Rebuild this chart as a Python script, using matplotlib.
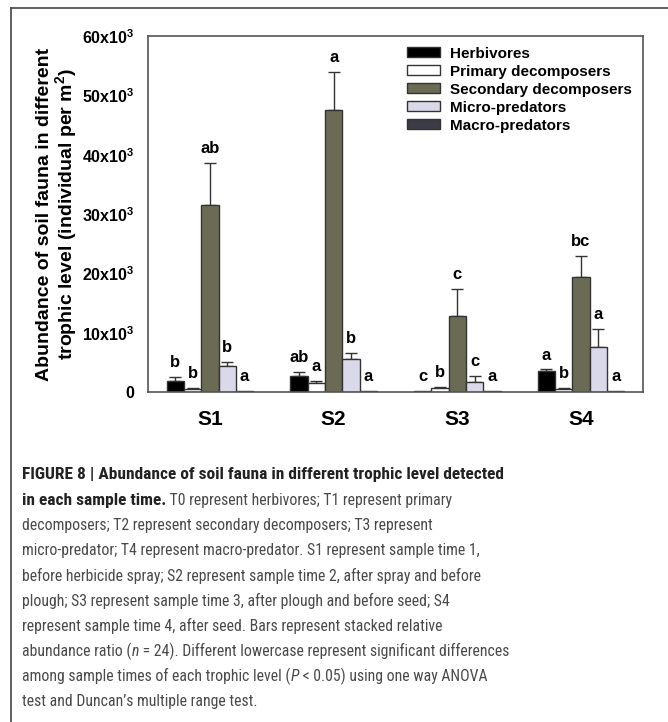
import matplotlib
matplotlib.use("Agg")
import matplotlib.pyplot as plt
import numpy as np
from matplotlib import font_manager as fm
from matplotlib.patches import Patch
from matplotlib.lines import Line2D

# data (individual per m2)
samples = ["S1", "S2", "S3", "S4"]
groups = ["Herbivores", "Primary decomposers", "Secondary decomposers",
          "Micro-predators", "Macro-predators"]
herbivores = [1900, 2700, 200, 3500]
primary = [500, 1500, 700, 500]
secondary = [31600, 47500, 12800, 19400]
micro = [4300, 5500, 1700, 7600]
macro = [100, 100, 100, 100]

herbivores_err = [600, 700, 0, 300]
primary_err = [150, 300, 200, 150]
secondary_err = [7000, 6500, 4500, 3600]
micro_err = [800, 1100, 1000, 3100]
macro_err = [0, 0, 0, 0]

letters = [
    ["b", "ab", "c", "a"],
    ["b", "a", "b", "b"],
    ["ab", "a", "c", "bc"],
    ["b", "b", "c", "a"],
    ["a", "a", "a", "a"],
]

y_ticks = [0, 10000, 20000, 30000, 40000, 50000, 60000]

colors = ["#000000", "#ffffff", "#6b6b55", "#d9d9ea", "#3c3c48"]
edge = "#333333"

W, H = 668, 722
fig = plt.figure(figsize=(W / 100, H / 100), dpi=100)
plt.rcParams["font.family"] = ["Liberation Sans", "DejaVu Sans"]
plt.rcParams["mathtext.fontset"] = "custom"
plt.rcParams["mathtext.bf"] = "Liberation Sans:bold"
plt.rcParams["mathtext.rm"] = "Liberation Sans:bold"

# outer frame (top and left only visible)
fig.add_artist(Line2D([11 / W, 11 / W], [0, 1 - 8 / H], transform=fig.transFigure,
                      color="#444444", lw=1.2))
fig.add_artist(Line2D([11 / W, 1], [1 - 8 / H, 1 - 8 / H], transform=fig.transFigure,
                      color="#444444", lw=1.2))

ax = fig.add_axes([148 / W, 1 - 392 / H, 495 / W, 356 / H])

x = np.arange(1, len(samples) + 1)
bw = 0.14
series = [herbivores, primary, secondary, micro, macro]
errs = [herbivores_err, primary_err, secondary_err, micro_err, macro_err]

for i, (vals, err) in enumerate(zip(series, errs)):
    xs = x + (i - 2) * bw
    ax.bar(xs, vals, width=bw, color=colors[i], edgecolor=edge, linewidth=1,
           label=groups[i], zorder=2)
    has_err = [e > 0 for e in err]
    if any(has_err):
        xe = [xx for xx, h in zip(xs, has_err) if h]
        ve = [v for v, h in zip(vals, has_err) if h]
        ee = [e for e, h in zip(err, has_err) if h]
        ax.errorbar(xe, ve, yerr=[np.zeros(len(ee)), ee], fmt="none",
                    ecolor=edge, elinewidth=1, capsize=4.5, capthick=1, zorder=1)
    for xx, v, e, lab in zip(xs, vals, err, letters[i]):
        ax.annotate(lab, (xx, v + e), xytext=(0, 5), textcoords="offset points",
                    ha="center", va="bottom", fontsize=12, fontweight="bold")

ax.set_xlim(0.5, 4.5)
ax.set_ylim(0, 60000)
ax.set_xticks(x)
ax.set_xticklabels(samples, fontsize=15, fontweight="bold")
ax.set_yticks(y_ticks)
ax.set_yticklabels(["0"] + [f"{v // 1000}x10$^\\mathbf{{3}}$" for v in y_ticks[1:]],
                   fontsize=11.5, fontweight="bold")
ax.tick_params(axis="both", length=0)
ax.tick_params(axis="y", pad=10)
ax.tick_params(axis="x", pad=13)
for s in ax.spines.values():
    s.set_color("#555555")
    s.set_linewidth(1.2)

ax.set_ylabel("Abundance of soil fauna in different\ntrophic level (individual per m$^\\mathbf{2}$)",
              fontsize=14, fontweight="bold", labelpad=1, linespacing=1.05)

handles = [Patch(facecolor=c, edgecolor=edge, linewidth=1) for c in colors]
ax.legend(handles, groups, loc="upper left", bbox_to_anchor=(0.523, 0.97),
          frameon=False, prop={"weight": "bold", "size": 11},
          handlelength=2.2, handleheight=0.65, handletextpad=0.65,
          labelspacing=0.26, borderpad=0, borderaxespad=0)

# caption font: prefer a narrow face if one is installed
names = {f.name for f in fm.fontManager.ttflist}
cap_font = "Liberation Sans"
for cand in ["Liberation Sans Narrow", "Roboto Condensed", "DejaVu Sans Condensed",
             "Open Sans Condensed", "Noto Sans Condensed", "Arial Narrow"]:
    if cand in names:
        cap_font = cand
        break

caption = [
    [("FIGURE 8 | Abundance of soil fauna in different trophic level detected", "bold", "normal")],
    [("in each sample time.", "bold", "normal"),
     (" T0 represent herbivores; T1 represent primary", "normal", "normal")],
    [("decomposers; T2 represent secondary decomposers; T3 represent", "normal", "normal")],
    [("micro-predator; T4 represent macro-predator. S1 represent sample time 1,", "normal", "normal")],
    [("before herbicide spray; S2 represent sample time 2, after spray and before", "normal", "normal")],
    [("plough; S3 represent sample time 3, after plough and before seed; S4", "normal", "normal")],
    [("represent sample time 4, after seed. Bars represent stacked relative", "normal", "normal")],
    [("abundance ratio (", "normal", "normal"), ("n", "normal", "italic"),
     (" = 24). Different lowercase represent significant differences", "normal", "normal")],
    [("among sample times of each trophic level (", "normal", "normal"), ("P", "normal", "italic"),
     (" < 0.05) using one way ANOVA", "normal", "normal")],
    [("test and Duncan\u2019s multiple range test.", "normal", "normal")],
]

fig.canvas.draw()
renderer = fig.canvas.get_renderer()


def text_width(s, weight):
    t = fig.text(0, 0, s, fontsize=13, family=cap_font, fontweight=weight)
    w = t.get_window_extent(renderer).width
    t.remove()
    return w


# size bold and regular caption text so the lines span the original widths
bold_size = 13 * 480 / text_width(caption[0][0][0], "bold")
reg_size = 13 * 485 / text_width("abundance ratio (n = 24). Different lowercase represent "
                                 "significant differences", "normal")

y0 = 475
step = 25.2
for k, line in enumerate(caption):
    xp = 22
    yp = y0 + k * step
    for txt, weight, style in line:
        t = fig.text(xp / W, 1 - yp / H, txt, family=cap_font,
                     fontsize=bold_size if weight == "bold" else reg_size,
                     fontweight=weight, fontstyle=style, va="center", ha="left",
                     color="#222222" if weight == "bold" else "#4a4a4a")
        bb = t.get_window_extent(renderer)
        xp = bb.x1

fig.savefig("out.png", dpi=100)
